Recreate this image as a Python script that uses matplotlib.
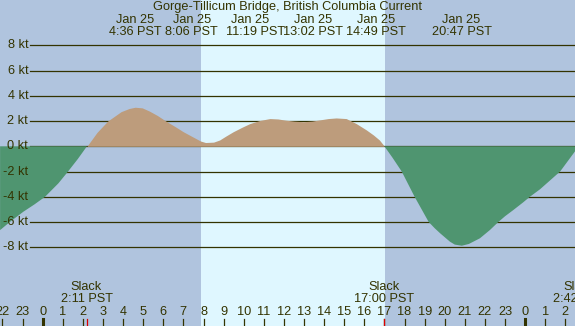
import numpy as np
import matplotlib
matplotlib.use('Agg')
import matplotlib.pyplot as plt

# current speed (kt), hours from midnight Jan 25 (PST)
hours = [-2.12, -1.63, -0.97, -0.4, 0.12, 0.78, 1.26, 1.75, 2.2,
         2.7, 3.23, 3.9, 4.3, 4.6, 4.95, 5.3, 5.7, 6.13, 6.6, 7.0, 7.5, 7.85, 8.1, 8.5, 8.8,
         9.1, 9.47, 9.9, 10.3, 10.8, 11.3, 11.7, 12.1, 12.5, 12.96, 13.4, 13.8, 14.2, 14.6,
         15.1, 15.6, 16.1, 16.45, 16.75, 17.0,
         17.4, 17.86, 18.5, 19.2, 19.5, 19.77, 20.26, 20.5, 20.85, 21.2, 21.75, 22.25,
         22.67, 23.0, 23.41, 23.9, 24.24, 24.74, 25.74, 26.48]
speed = [-6.65, -6.0, -5.2, -4.6, -4.0, -2.94, -2.0, -1.0, 0.0,
         1.1, 2.0, 2.75, 3.0, 3.1, 3.05, 2.8, 2.45, 2.0, 1.55, 1.15, 0.72, 0.42, 0.3, 0.33, 0.5,
         0.8, 1.15, 1.5, 1.8, 2.05, 2.2, 2.17, 2.07, 2.0, 1.95, 2.0, 2.1, 2.2, 2.25,
         2.2, 1.8, 1.3, 0.9, 0.5, 0.0,
         -0.9, -2.0, -4.0, -6.0, -6.5, -6.9, -7.57, -7.8, -7.89, -7.75, -7.3, -6.64,
         -6.0, -5.55, -5.06, -4.45, -4.0, -3.41, -2.0, -0.4]

# events listed along the top
event_dates = ['Jan 25'] * 6
event_times = ['4:36 PST', '8:06 PST', '11:19 PST', '13:02 PST', '14:49 PST', '20:47 PST']
date_pos = [4.58, 7.43, 10.30, 13.44, 16.57, 20.80]
time_pos = [4.59, 7.38, 10.59, 13.46, 16.59, 20.85]

slack_hours = [2.18, 17.0, 26.7]
slack_labels = ['2:11 PST', '17:00 PST', '2:42 PST']

day_start, day_end = 7.88, 17.03
yticks = [8, 6, 4, 2, 0, -2, -4, -6, -8]

txt = '#333300'
night = '#b0c4de'
fs = 9.2
plt.rcParams['font.family'] = ['Liberation Sans', 'DejaVu Sans']

fig = plt.figure(figsize=(5.75, 3.26), dpi=100, facecolor=night)
ax = fig.add_axes([0, 0, 1, 1])
ax.set_xlim(-2.124, 26.48)
ax.set_ylim(-14.26, 11.61)
ax.axis('off')

ax.axvspan(day_start, day_end, color='#dff7ff', lw=0, zorder=0)

for v in yticks:
    ax.axhline(v, xmin=30 / 575, xmax=1, color=txt, lw=0.9, zorder=1)
    ax.text(-0.72, v, f'{v} kt', ha='right', va='center', fontsize=fs, color=txt, zorder=5)

h = np.array(hours)
s = np.array(speed)
ax.fill_between(h, 0, s, where=s >= 0, interpolate=True, color='#bd9c7c', lw=0, zorder=2)
ax.fill_between(h, 0, s, where=s <= 0, interpolate=True, color='#4f9570', lw=0, zorder=2)

xt = ax.get_xaxis_transform()
ax.text(0.5, 1 - 7.3 / 326, 'Gorge-Tillicum Bridge, British Columbia Current',
        transform=ax.transAxes, ha='center', va='center', fontsize=fs, color=txt)
for d, t, dx, tx in zip(event_dates, event_times, date_pos, time_pos):
    ax.text(dx, 1 - 20 / 326, d, transform=xt, ha='center', va='center', fontsize=fs, color=txt)
    ax.text(tx, 1 - 31.7 / 326, t, transform=xt, ha='center', va='center', fontsize=fs, color=txt)

# hour ticks along the bottom
for hr in range(-2, 27):
    ax.text(hr, 1 - 311.7 / 326, str(hr % 24), transform=xt, ha='center', va='center',
            fontsize=fs, color=txt)
    lw = 2.2 if hr % 24 == 0 else 0.9
    ax.plot([hr, hr], [0, 7 / 326], transform=xt, color=txt, lw=lw, zorder=3)

for sh, sl in zip(slack_hours, slack_labels):
    ax.text(sh, 1 - 287.3 / 326, 'Slack', transform=xt, ha='center', va='center', fontsize=fs, color=txt)
    ax.text(sh, 1 - 299.3 / 326, sl, transform=xt, ha='center', va='center', fontsize=fs, color=txt)
    ax.plot([sh, sh], [0, 7 / 326], transform=xt, color='#dd0000', lw=0.9, zorder=4)

fig.savefig('out.png', dpi=100, facecolor=night)
